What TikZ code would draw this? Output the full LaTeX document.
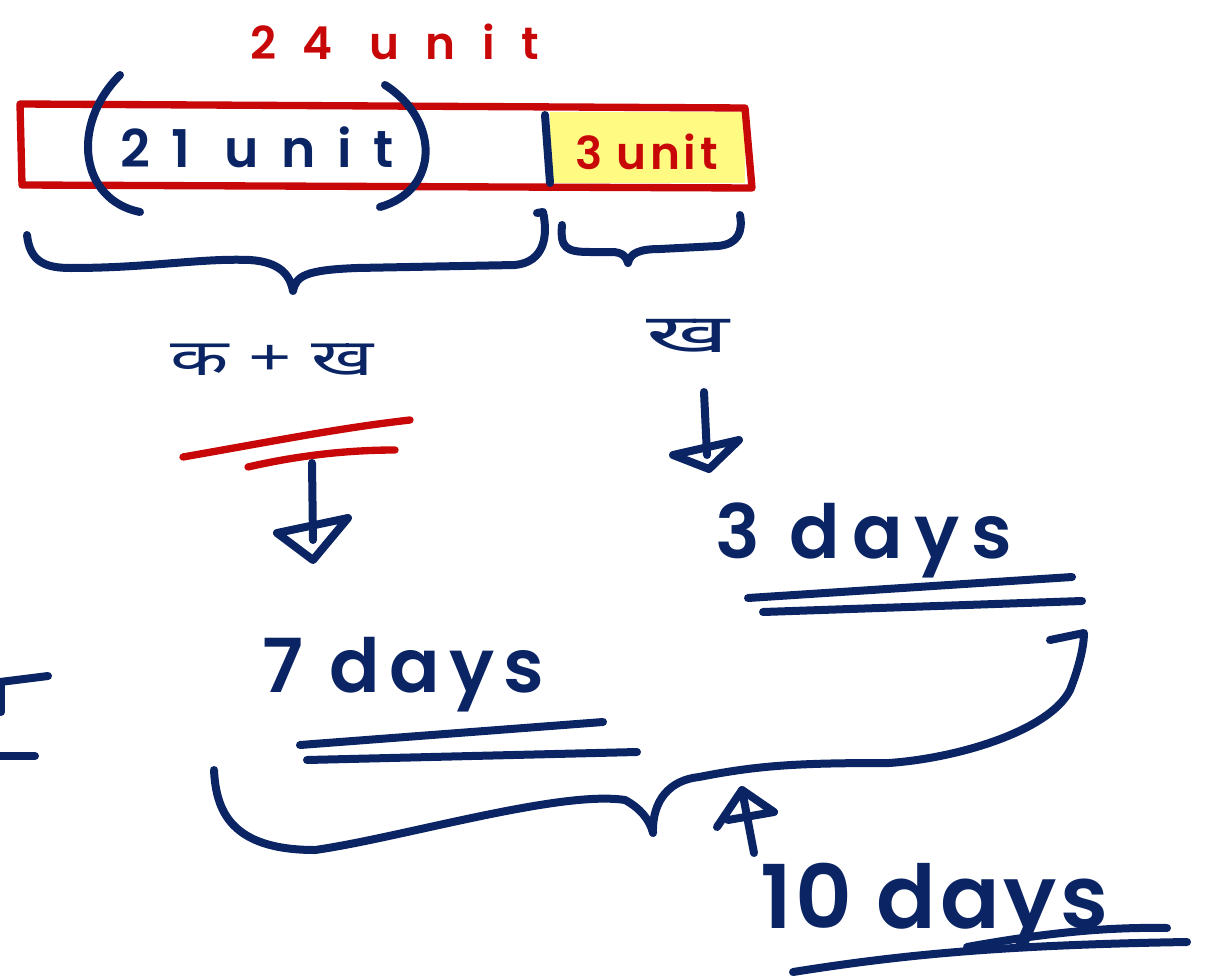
\documentclass[tikz,border=0pt]{standalone}
\usepackage{fontspec}
\setmainfont{Poppins}
\newfontfamily\semib{Poppins SemiBold}
\newfontfamily\deva[Script=Devanagari]{Noto Sans}
\usetikzlibrary{arrows.meta}
\definecolor{inkblue}{RGB}{10,36,100}
\definecolor{inkred}{RGB}{200,8,8}
\definecolor{hl}{RGB}{255,250,130}
\begin{document}
\begin{tikzpicture}[x=0.75pt,y=-0.75pt,line cap=round,line join=round,
  ink/.style={draw=inkblue,line width=6pt},
  rink/.style={draw=inkred,line width=5.5pt},
  btxt/.style={text=inkblue,inner sep=0pt,anchor=base west},
  rtxt/.style={text=inkred,inner sep=0pt,anchor=base west}]
\useasboundingbox (0,0) rectangle (1209,977);

% bar
\fill[hl] (550,112) rectangle (745,183);
\draw[rink] (20,104) -- (745,108) -- (752,188) -- (22,185) -- cycle;
\coordinate (divtop) at (545,115);
\coordinate (divbot) at (550,183);
\draw[ink] (divtop) -- (divbot);

% labels on bar
\node[rtxt,font=\semib\fontsize{34}{36}\selectfont\addfontfeatures{LetterSpace=58}] (t24) at (250,60) {24 unit};
\node[btxt,font=\semib\fontsize{39}{40}\selectfont\addfontfeatures{LetterSpace=42}] (t21) at (120,167) {21 unit};
\node[rtxt,font=\semib\fontsize{34}{36}\selectfont\addfontfeatures{LetterSpace=8}] (t3u) at (575,170) {3 unit};

% parentheses
\draw[ink] (120,75) .. controls (70,125) and (80,200) .. (140,212);
\draw[ink] (385,85) .. controls (440,120) and (440,190) .. (380,207);

% braces under bar
\draw[ink] (27,235) .. controls (30,262) and (45,268) .. (71,268)
  .. controls (150,268) and (200,258) .. (250,260)
  .. controls (280,262) and (290,275) .. (293,291)
  .. controls (296,276) and (305,270) .. (357,268)
  -- (515,265) .. controls (545,262) and (548,235) .. (543,212) -- (537,213);
\draw[ink] (562,225) .. controls (560,248) and (566,252) .. (590,252)
  -- (612,252) .. controls (622,252) and (627,257) .. (628,263)
  .. controls (630,253) and (640,249) .. (660,249)
  -- (718,246) .. controls (738,244) and (743,232) .. (740,215);

% Hindi labels
\node[text=inkblue,inner sep=0pt,font=\deva\bfseries\fontsize{38}{40}\selectfont] (kk) at (272,360) {\scalebox{1.5}[1]{क + ख}};
\node[text=inkblue,inner sep=0pt,font=\deva\bfseries\fontsize{40}{42}\selectfont] (kh) at (688,336) {\scalebox{1.9}[1]{ख}};

% red double underline
\draw[rink] (183,457) .. controls (280,440) and (340,428) .. (410,420);
\draw[rink] (248,467) .. controls (300,455) and (350,450) .. (395,450);

% arrow 1
\coordinate (a1s) at (312,463);
\coordinate (a1e) at (313,560);
\draw[ink] (a1s) -- (313,540);
\draw[ink] (a1e) -- ++(-36,-27) -- ++(71,-15) -- cycle;

% arrow 2
\coordinate (a2s) at (704,392);
\coordinate (a2e) at (709,469);
\draw[ink] (a2s) -- (707,455);
\draw[ink] (a2e) -- ++(-36,-14) -- ++(66,-15) -- cycle;

% days labels
\node[btxt,font=\semib\fontsize{56}{58}\selectfont\addfontfeatures{LetterSpace=16}] (d3) at (715,558) {3 days};
\node[btxt,font=\semib\fontsize{56}{60}\selectfont\addfontfeatures{LetterSpace=12}] (d7) at (262,692) {7 days};
\node[btxt,font=\semib\fontsize{66}{72}\selectfont\addfontfeatures{LetterSpace=4}] (d10) at (760,928) {10 days};

% underlines
\draw[ink] (748,598) -- (1072,577);
\draw[ink] (763,612) -- (1082,601);
\draw[ink] (300,745) -- (603,722);
\draw[ink] (307,760) -- (637,752);
\draw[ink] (793,972) .. controls (900,955) and (1000,945) .. (1187,942);
\draw[ink] (967,947) .. controls (1050,932) and (1110,927) .. (1167,928);

% big brace
\draw[ink] (214,770) .. controls (216,810) and (230,850) .. (315,850)
  .. controls (400,838) and (560,790) .. (625,800)
  .. controls (640,808) and (650,820) .. (653,833)
  .. controls (652,800) and (670,780) .. (699,777)
  .. controls (760,765) and (800,763) .. (889,763)
  .. controls (960,758) and (1050,730) .. (1070,690)
  .. controls (1082,660) and (1084,640) .. (1084,633) -- (1050,640);

% arrow 3 up
\coordinate (a3s) at (754,853);
\coordinate (a3e) at (742,790);
\draw[ink] (a3s) -- (a3e);
\draw[ink] (a3e) -- (717,827) (a3e) -- (774,812) -- (728,820);

% left margin marks
\draw[ink] (0,682) -- (48,676);
\draw[ink] (0,756) -- (35,756);
\draw[ink] (1,684) -- (1,712);
\end{tikzpicture}
\end{document}
